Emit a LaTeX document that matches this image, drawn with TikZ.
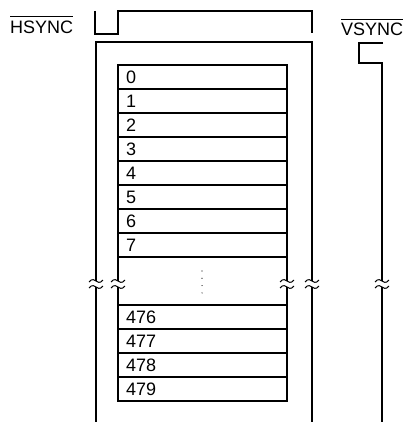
\documentclass[tikz,border=0pt]{standalone}
\usepackage{fontspec}
\setmainfont{Liberation Sans}
\usepackage{tikz}
\usetikzlibrary{positioning}

\begin{document}
\begin{tikzpicture}[
      x=1pt,y=-1pt,
      font=\fontsize{18}{20}\selectfont,
      wave/.style={line width=1.8pt},
      rowbox/.style={draw,line width=1.8pt,outer sep=0pt,
        text width=153pt,minimum height=24pt,
        align=left,inner xsep=8pt,inner ysep=0pt},
      sig/.style={inner sep=0pt,anchor=base west},
      bar/.style={line width=0.7pt},
      brk/.style={line width=1pt}
    ]
      \useasboundingbox (0,0) rectangle (407,422);

      % signal names
      \node[sig] (hs) at (10,33.5) {HSYNC};
      \node[sig] (vs) at (341,35.5) {VSYNC};
      \draw[bar] ([yshift=4.5pt]hs.north west) -- ([yshift=4.5pt]hs.north east);
      \draw[bar] ([yshift=3.5pt]vs.north west) -- ([yshift=3.5pt]vs.north east);

      % line buffer rows
      \node[rowbox] (r0) at (202.5,77) {0};
      \foreach \i [count=\j from 0] in {1,...,7}
        \node[rowbox,below=0pt of r\j] (r\i) {\i};
      \node[rowbox,below=48pt of r7] (r476) {476};
      \foreach \i [count=\j from 476] in {477,478,479}
        \node[rowbox,below=0pt of r\j] (r\i) {\i};

      % gap between 7 and 476
      \draw[wave] (r7.south west) -- ++(0,24) (r476.north west) -- ++(0,-18);
      \draw[wave] (r7.south east) -- ++(0,24) (r476.north east) -- ++(0,-18);
      \foreach \k in {0,...,3}
        \fill (202,{271+7.3*\k}) circle (0.6pt);

      % waveforms and frame
      \draw[wave] (95,11) -- (95,34) -- (118,34) -- (118,11) -- (312,11) -- (312,33);
      \draw[wave] (96,422) -- (96,287) (96,281) -- (96,42) -- (312,42)
        -- (312,281) (312,287) -- (312,422);
      \draw[wave] (383,43) -- (359,43) -- (359,63) -- (382,63) -- (382,281)
        (382,287) -- (382,422);

      % break marks
      \foreach \x in {96,118,287,312,382}
        \foreach \y in {281,287}
          \draw[brk] (\x-7,\y+1) .. controls (\x-4,\y-3) and (\x-1,\y-1) .. (\x,\y)
            .. controls (\x+1,\y+1) and (\x+4,\y+3) .. (\x+7,\y-1);
    \end{tikzpicture}
\end{document}
